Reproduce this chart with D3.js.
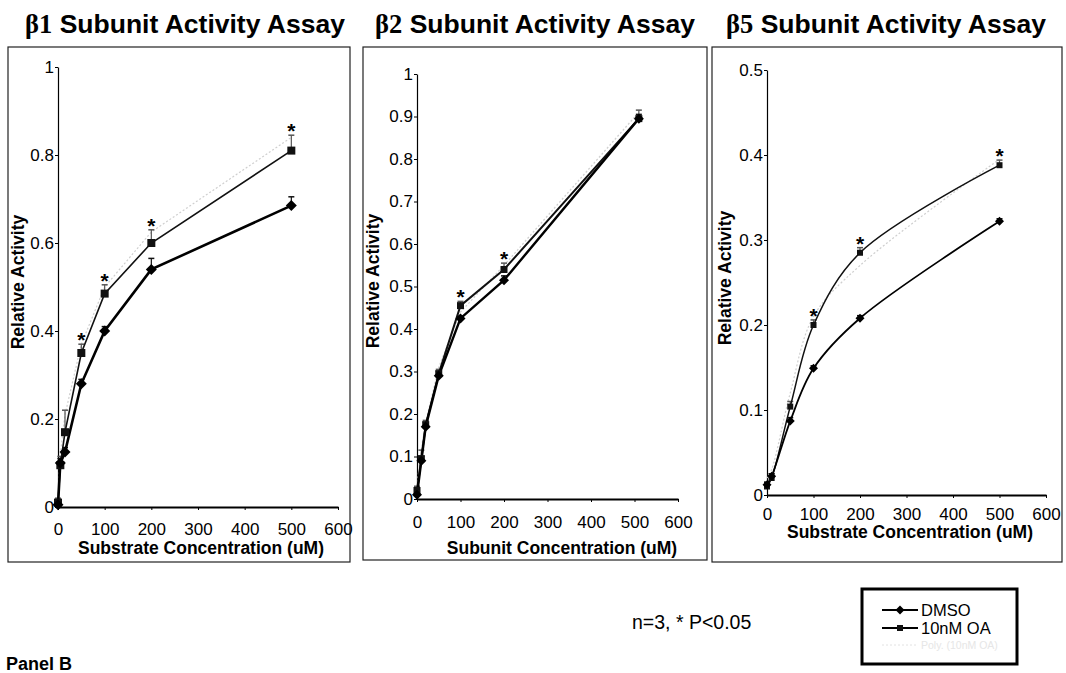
<!DOCTYPE html>
<html>
<head>
<meta charset="utf-8">
<script src="https://cdn.jsdelivr.net/npm/d3@7"></script>
<style>
  body { margin: 0; background: #fff; }
  svg { display: block; font-family: Arial, "Liberation Sans", sans-serif; }
</style>
</head>
<body>
<svg id="chart" width="1066" height="673"></svg>
<script>
//////////// data ////////////
var xTicks = [0, 100, 200, 300, 400, 500, 600];
var b1Ticks = [0, 0.2, 0.4, 0.6, 0.8, 1];
var b2Ticks = [0, 0.1, 0.2, 0.3, 0.4, 0.5, 0.6, 0.7, 0.8, 0.9, 1];
var b5Ticks = [0, 0.1, 0.2, 0.3, 0.4, 0.5];

var seriesNames = ["DMSO", "10nM OA", "Poly. (10nM OA)"];

// beta1
var b1Conc    = [0, 5, 15, 50, 100, 200, 500];
var b1Dmso    = [0.005, 0.10, 0.125, 0.28, 0.40, 0.54, 0.685];
var b1DmsoErr = [0.005, 0.01, 0.01, 0.01, 0.01, 0.025, 0.02];
var b1Oa      = [0.01, 0.095, 0.17, 0.35, 0.485, 0.60, 0.81];
var b1OaErr   = [0.01, 0.02, 0.05, 0.02, 0.02, 0.03, 0.035];
var b1Faint   = [0.02, 0.12, 0.21, 0.37, 0.50, 0.625, 0.84];
var b1Sig     = [0, 0, 0, 1, 1, 1, 1];

// beta2
var b2Conc    = [0, 10, 20, 50, 100, 200, 510];
var b2Dmso    = [0.01, 0.09, 0.17, 0.29, 0.425, 0.515, 0.895];
var b2DmsoErr = [0.005, 0.01, 0.01, 0.01, 0.005, 0.01, 0.01];
var b2Oa      = [0.02, 0.095, 0.175, 0.295, 0.455, 0.54, 0.895];
var b2OaErr   = [0.01, 0.02, 0.01, 0.01, 0.01, 0.015, 0.02];
var b2Faint   = [0.03, 0.12, 0.18, 0.31, 0.44, 0.55, 0.91];
var b2Sig     = [0, 0, 0, 0, 1, 1, 0];

// beta5
var b5Conc    = [0, 10, 50, 100, 200, 500];
var b5Dmso    = [0.012, 0.022, 0.087, 0.149, 0.208, 0.322];
var b5DmsoErr = [0.003, 0.003, 0.004, 0.003, 0.003, 0.003];
var b5Oa      = [0.01, 0.02, 0.104, 0.20, 0.285, 0.388];
var b5OaErr   = [0.005, 0.005, 0.006, 0.006, 0.006, 0.006];
var b5Faint   = [0.02, 0.03, 0.12, 0.21, 0.27, 0.395];
var b5Sig     = [0, 0, 0, 1, 1, 1];

//////////// panels (layout + which arrays) ////////////
var panels = [
  { greek: "\u03b21", xTitle: "Substrate Concentration (uM)", yMax: 1, yTicks: b1Ticks,
    conc: b1Conc, dmso: b1Dmso, dmsoErr: b1DmsoErr, oa: b1Oa, oaErr: b1OaErr, faint: b1Faint, sig: b1Sig,
    box: [8, 47, 350, 562], x0: 58, x1: 338, y0: 507, y1: 67,
    titleX: 185, xLabY: 535, xTitleX: 201, xTitleY: 554, yTitleX: 18, yTitleY: 282,
    curve: d3.curveLinear, dW: 2.6, oW: 1.6, mk: 9 },
  { greek: "\u03b22", xTitle: "Subunit Concentration (uM)", yMax: 1, yTicks: b2Ticks,
    conc: b2Conc, dmso: b2Dmso, dmsoErr: b2DmsoErr, oa: b2Oa, oaErr: b2OaErr, faint: b2Faint, sig: b2Sig,
    box: [363, 47, 707, 560], x0: 417, x1: 678, y0: 499, y1: 74,
    titleX: 535, xLabY: 528, xTitleX: 562, xTitleY: 554, yTitleX: 373, yTitleY: 281,
    curve: d3.curveLinear, dW: 2.4, oW: 2, mk: 8 },
  { greek: "\u03b25", xTitle: "Substrate Concentration (uM)", yMax: 0.5, yTicks: b5Ticks,
    conc: b5Conc, dmso: b5Dmso, dmsoErr: b5DmsoErr, oa: b5Oa, oaErr: b5OaErr, faint: b5Faint, sig: b5Sig,
    box: [712, 47, 1062, 562], x0: 767, x1: 1046, y0: 495, y1: 70,
    titleX: 886, xLabY: 520, xTitleX: 910, xTitleY: 538, yTitleX: 725, yTitleY: 278,
    curve: d3.curveCatmullRom.alpha(0.5), dW: 1.8, oW: 1.5, mk: 7 }
];

var svg = d3.select('#chart');

function diamond(g, cx, cy, s) {
  var h = s / 2 + 1;
  g.append('path')
    .attr('d', 'M' + cx + ',' + (cy - h) + 'L' + (cx + h) + ',' + cy + 'L' + cx + ',' + (cy + h) + 'L' + (cx - h) + ',' + cy + 'Z')
    .attr('fill', '#000');
}
function square(g, cx, cy, s) {
  g.append('rect')
    .attr('x', cx - s / 2).attr('y', cy - s / 2)
    .attr('width', s).attr('height', s)
    .attr('fill', '#111');
}

panels.forEach(function(p) {
  var g = svg.append('g');

  // title
  var t = g.append('text')
    .attr('x', p.titleX).attr('y', 33)
    .attr('text-anchor', 'middle')
    .attr('font-size', 26.5).attr('font-weight', 'bold');
  t.append('tspan').attr('font-family', '"Liberation Serif", "DejaVu Serif", serif').text(p.greek);
  t.append('tspan').text(' Subunit Activity Assay');

  // frame
  g.append('rect')
    .attr('x', p.box[0]).attr('y', p.box[1])
    .attr('width', p.box[2] - p.box[0]).attr('height', p.box[3] - p.box[1])
    .attr('fill', 'none').attr('stroke', '#222').attr('stroke-width', 1.2);

  var x = d3.scaleLinear().domain([0, 600]).range([p.x0, p.x1]);
  var y = d3.scaleLinear().domain([0, p.yMax]).range([p.y0, p.y1]);

  // axes
  var ya = g.append('g')
    .attr('transform', 'translate(' + p.x0 + ',0)')
    .call(d3.axisLeft(y).tickValues(p.yTicks).tickSize(3).tickSizeOuter(0).tickPadding(1)
      .tickFormat(function(d) { return String(d); }));
  var xa = g.append('g')
    .attr('transform', 'translate(0,' + p.y0 + ')')
    .call(d3.axisBottom(x).tickValues(xTicks).tickSize(3).tickSizeOuter(0)
      .tickPadding(p.xLabY - p.y0 - 15));
  ya.select('.domain').attr('stroke-width', 1.2);
  xa.select('.domain').attr('stroke-width', 1.8);
  g.selectAll('.tick text').attr('font-size', 17).attr('fill', '#000')
    .attr('font-family', 'Arial, "Liberation Sans", sans-serif');

  // axis titles
  g.append('text')
    .attr('x', p.xTitleX).attr('y', p.xTitleY)
    .attr('text-anchor', 'middle')
    .attr('font-size', 17.5).attr('font-weight', 'bold')
    .text(p.xTitle);
  g.append('text')
    .attr('transform', 'translate(' + p.yTitleX + ',' + p.yTitleY + ') rotate(-90)')
    .attr('text-anchor', 'middle').attr('dominant-baseline', 'central')
    .attr('font-size', 17.5).attr('font-weight', 'bold')
    .text('Relative Activity');

  var line = d3.line()
    .x(function(d) { return x(d[0]); })
    .y(function(d) { return y(d[1]); })
    .curve(p.curve);

  var faintPts = d3.zip(p.conc, p.faint);
  var oaPts = d3.zip(p.conc, p.oa);
  var dmsoPts = d3.zip(p.conc, p.dmso);

  // faint third series
  g.append('path').attr('d', line(faintPts))
    .attr('fill', 'none').attr('stroke', '#cfcfcf').attr('stroke-width', 1.2)
    .attr('stroke-dasharray', '2,2');

  // error bars
  function errBars(vals, errs, col) {
    vals.forEach(function(v, i) {
      var cx = x(p.conc[i]), top = y(v + errs[i]);
      g.append('line').attr('x1', cx).attr('x2', cx).attr('y1', y(v)).attr('y2', top)
        .attr('stroke', col).attr('stroke-width', 1.2);
      g.append('line').attr('x1', cx - 3).attr('x2', cx + 3).attr('y1', top).attr('y2', top)
        .attr('stroke', col).attr('stroke-width', 1.5);
    });
  }
  errBars(p.oa, p.oaErr, '#555');
  errBars(p.dmso, p.dmsoErr, '#111');

  // lines
  g.append('path').attr('d', line(oaPts))
    .attr('fill', 'none').attr('stroke', '#111').attr('stroke-width', p.oW);
  g.append('path').attr('d', line(dmsoPts))
    .attr('fill', 'none').attr('stroke', '#000').attr('stroke-width', p.dW);

  // markers
  oaPts.forEach(function(d) { square(g, x(d[0]), y(d[1]), p.mk - 1); });
  dmsoPts.forEach(function(d) { diamond(g, x(d[0]), y(d[1]), p.mk); });

  // significance stars
  p.sig.forEach(function(s, i) {
    if (!s) return;
    g.append('text')
      .attr('x', x(p.conc[i])).attr('y', y(p.oa[i] + p.oaErr[i]) + 3)
      .attr('text-anchor', 'middle')
      .attr('font-size', 21).attr('font-weight', 'bold')
      .text('*');
  });
});

// note
svg.append('text')
  .attr('x', 632).attr('y', 622)
  .attr('dominant-baseline', 'central')
  .attr('font-size', 19.5)
  .text('n=3, * P<0.05');

// legend
var leg = svg.append('g');
leg.append('rect')
  .attr('x', 862).attr('y', 589).attr('width', 155).attr('height', 75)
  .attr('fill', '#fff').attr('stroke', '#000').attr('stroke-width', 3);
var legY = [610, 628, 645];
seriesNames.forEach(function(name, i) {
  var faint = i === 2;
  leg.append('line')
    .attr('x1', 882).attr('x2', 918).attr('y1', legY[i]).attr('y2', legY[i])
    .attr('stroke', faint ? '#e2e2e2' : '#000').attr('stroke-width', faint ? 1 : 2)
    .attr('stroke-dasharray', faint ? '2,2' : null);
  if (i === 0) diamond(leg, 900, legY[i], 7);
  if (i === 1) square(leg, 900, legY[i], 6);
  leg.append('text')
    .attr('x', 921).attr('y', legY[i])
    .attr('dominant-baseline', 'central')
    .attr('font-size', faint ? 10.5 : 16.5)
    .attr('fill', faint ? '#e6e6e6' : '#000')
    .text(name);
});

// panel label at the bottom edge
svg.append('text')
  .attr('x', 6).attr('y', 670)
  .attr('font-size', 18).attr('font-weight', 'bold')
  .text('Panel B');
</script>
</body>
</html>
